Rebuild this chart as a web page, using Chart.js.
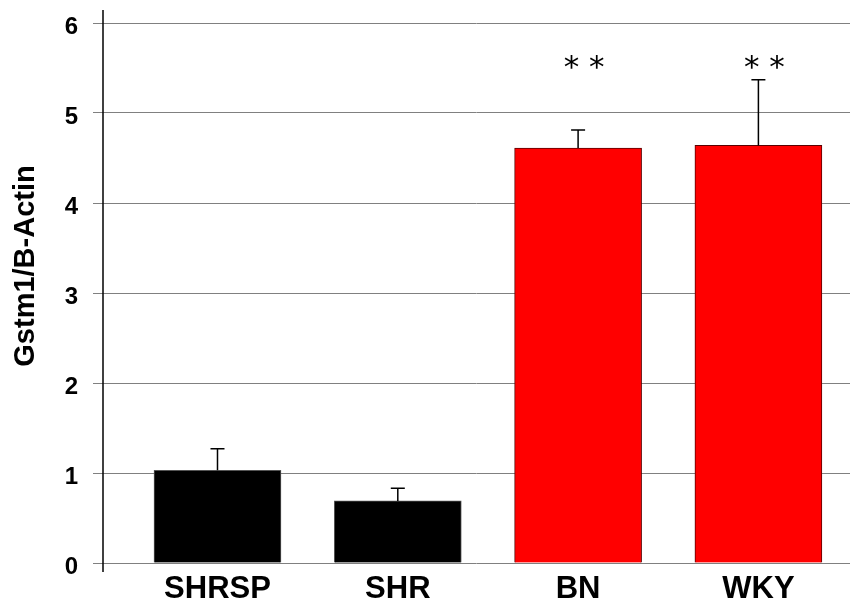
<!DOCTYPE html>
<html>
<head>
<meta charset="utf-8">
<script src="https://cdn.jsdelivr.net/npm/chart.js@4.4.1/dist/chart.umd.min.js"></script>
<style>
  body { margin: 0; background: #fff; }
  #wrap { width: 850px; height: 600px; }
</style>
</head>
<body>
<div id="wrap"><canvas id="myChart"></canvas></div>
<script>
// Data
const categories = ['SHRSP', 'SHR', 'BN', 'WKY'];
const values = [1.03, 0.69, 4.61, 4.64];
const errors = [0.24, 0.14, 0.20, 0.73];
const barColors = ['#000000', '#000000', '#ff0000', '#ff0000'];
const edgeColors = ['#555555', '#555555', '#5a0000', '#5a0000'];
const marks = ['', '', '* *', '* *'];
const markLevel = 5.54;
const yTicks = [0, 1, 2, 3, 4, 5, 6];
const yTitle = 'Gstm1/B-Actin';

// error bars, axis line, significance marks and axis title
const extras = {
    id: 'extras',
    afterDatasetsDraw(chart) {
        const c = chart.ctx;
        const xs = chart.scales.x;
        const ys = chart.scales.y;
        const area = chart.chartArea;
        c.save();

        // error bars (upper only)
        c.strokeStyle = '#000';
        c.lineWidth = 1.5;
        values.forEach((v, i) => {
            const x = xs.getPixelForValue(i);
            const y0 = ys.getPixelForValue(v);
            const y1 = ys.getPixelForValue(v + errors[i]);
            c.beginPath();
            c.moveTo(x, y0);
            c.lineTo(x, y1);
            c.moveTo(x - 7, y1);
            c.lineTo(x + 7, y1);
            c.stroke();
        });

        // y axis line, running a little past top and bottom
        c.lineWidth = 1.5;
        c.beginPath();
        c.moveTo(area.left, area.top - 13);
        c.lineTo(area.left, area.bottom + 9);
        c.stroke();

        // asterisks
        c.fillStyle = '#000';
        c.font = '31px "DejaVu Sans"';
        c.textAlign = 'center';
        c.textBaseline = 'middle';
        marks.forEach((m, i) => {
            if (!m) return;
            c.fillText(m, xs.getPixelForValue(i) + 6, ys.getPixelForValue(markLevel) + 5);
        });

        // rotated y axis title
        c.font = 'bold 29px "Liberation Sans", Arial, sans-serif';
        c.translate(26, 266);
        c.rotate(-Math.PI / 2);
        c.fillText(yTitle, 0, 0);
        c.restore();
    }
};

new Chart(document.getElementById('myChart'), {
    type: 'bar',
    data: {
        datasets: [{
            data: values.map((v, i) => ({ x: i, y: v })),
            backgroundColor: barColors,
            borderColor: edgeColors,
            borderWidth: 1,
            barThickness: 127
        }]
    },
    options: {
        responsive: true,
        maintainAspectRatio: false,
        animation: false,
        layout: { padding: { top: 23, right: 0, left: 0, bottom: 0 } },
        plugins: { legend: { display: false }, tooltip: { enabled: false } },
        scales: {
            x: {
                type: 'linear',
                offset: false,
                min: -0.635,
                max: 3.508,
                grid: { display: false, offset: false },
                border: { display: false },
                afterBuildTicks: s => { s.ticks = categories.map((c, i) => ({ value: i })); },
                afterFit: s => { s.height = 37; },
                ticks: {
                    autoSkip: false,
                    maxRotation: 0,
                    padding: 0,
                    color: '#000',
                    font: { family: '"Liberation Sans", Arial, sans-serif', size: 31, weight: 'bold' },
                    callback: v => categories[v]
                }
            },
            y: {
                min: 0,
                max: 6,
                afterBuildTicks: s => { s.ticks = yTicks.map(v => ({ value: v })); },
                afterFit: s => { s.width = 103; s.paddingTop = 0; s.paddingBottom = 0; },
                grid: { color: '#808080', lineWidth: 1, tickLength: 10 },
                border: { display: false },
                ticks: {
                    padding: 15,
                    labelOffset: 4,
                    color: '#000',
                    font: { family: '"Liberation Sans", Arial, sans-serif', size: 24, weight: 'bold' }
                }
            }
        }
    },
    plugins: [extras]
});
</script>
</body>
</html>
